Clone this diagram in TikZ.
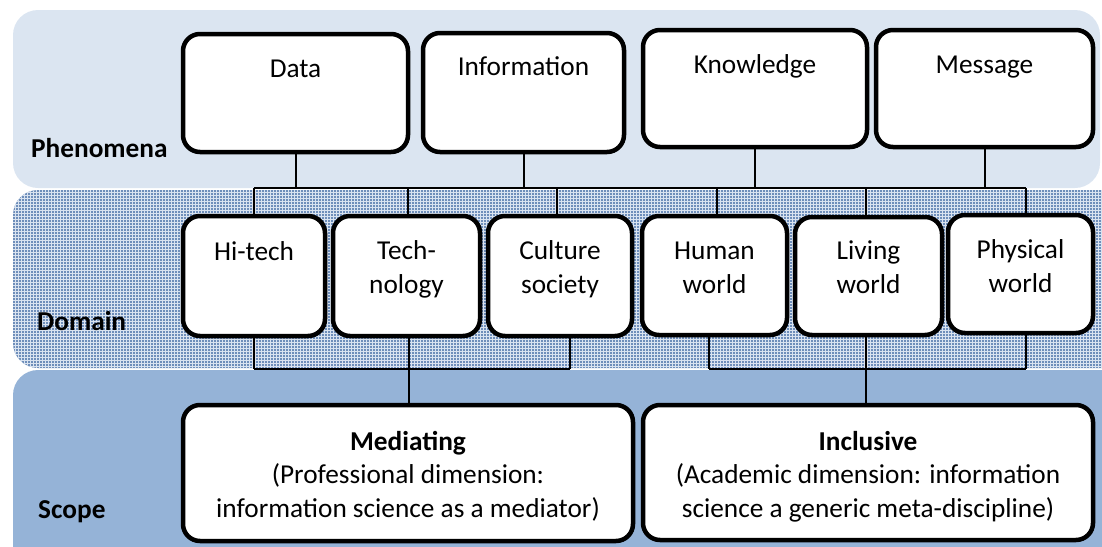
\documentclass[tikz,border=0pt]{standalone}
\usepackage{fontspec}
\setmainfont{Carlito}
\usetikzlibrary{patterns}
\definecolor{phenfill}{HTML}{DBE5F1}
\definecolor{scopefill}{HTML}{95B3D7}
\definecolor{domfill}{HTML}{6E8EBA}
\definecolor{domgrid}{HTML}{D9E3F0}
\begin{document}
\begin{tikzpicture}[x=1pt,y=-1pt,
  band/.style={rounded corners=25pt},
  bx/.style={draw=black, line width=4.5pt, fill=white, rounded corners=17pt, inner sep=0pt},
  conn/.style={draw=black, line width=2pt},
  txt/.style={font=\fontsize{27.3}{33.5}\selectfont, align=center, inner sep=0pt, anchor=base},
  lbl/.style={font=\fontsize{27.3}{33.5}\selectfont\bfseries, inner sep=0pt, anchor=base west}]
\useasboundingbox (0,0) rectangle (1102,546);
\clip (0,0) rectangle (1102,546);
% bands
\fill[phenfill, band] (13,10) rectangle (1100,188);
\path[band, preaction={fill=domfill}, pattern=grid, pattern color=domgrid] (13,190) rectangle (1130,368);
\fill[scopefill, band] (13,370) rectangle (1130,580);
% band labels
\node[lbl] (lphen) at (31,157) {Phenomena};
\node[lbl] (ldom) at (37,330) {Domain};
\node[lbl] (lscope) at (38,518) {Scope};
% phenomena boxes
\node[bx, minimum width=225pt, minimum height=118pt] (data) at (295.5,93) {};
\node[bx, minimum width=201pt, minimum height=119pt] (info) at (523.5,92.5) {};
\node[bx, minimum width=224pt, minimum height=117pt] (know) at (755,88.5) {};
\node[bx, minimum width=217pt, minimum height=117pt] (msg) at (984.5,88.5) {};
\node[txt] (datat) at (295.5,77) {Data};
\node[txt] (infot) at (523.5,75) {Information};
\node[txt] (knowt) at (755,73) {Knowledge};
\node[txt] (msgt) at (984.5,73) {Message};
% domain boxes
\node[bx, minimum width=142pt, minimum height=120pt] (hitech) at (254,276) {};
\node[bx, minimum width=147pt, minimum height=120pt] (tech) at (406.5,276) {};
\node[bx, minimum width=144pt, minimum height=120pt] (cult) at (560,276) {};
\node[bx, minimum width=145pt, minimum height=119pt] (human) at (714.5,275.5) {};
\node[bx, minimum width=147pt, minimum height=118pt] (living) at (868.5,276) {};
\node[bx, minimum width=145pt, minimum height=118pt] (phys) at (1020.5,274) {};
\node[txt] (hitecht) at (254,260) {Hi-tech};
\node[txt] (techt) at (406.5,293) {Tech-\\nology};
\node[txt] (cultt) at (560,293) {Culture\\society};
\node[txt] (humant) at (714.5,293) {Human\\world};
\node[txt] (livingt) at (868.5,293) {Living\\world};
\node[txt] (physt) at (1020.5,292) {Physical\\world};
% scope boxes
\node[bx, minimum width=450pt, minimum height=136pt] (med) at (408,473) {};
\node[bx, minimum width=450pt, minimum height=135pt] (incl) at (868,472.5) {};
\node[txt] (medt) at (408,517) {\textbf{Mediating}\\(Professional dimension:\\information science as a mediator)};
\node[txt] (inclt) at (868,517) {\textbf{Inclusive}\\(Academic dimension: information\\science a generic meta-discipline)};
% top connectors
\coordinate (tbusL) at (254,188);
\coordinate (tbusR) at (1026,188);
\draw[conn] (tbusL) -- (tbusR);
\draw[conn] (data.south) -- (data.south |- tbusL);
\draw[conn] (info.south) -- (info.south |- tbusL);
\draw[conn] (know.south) -- (know.south |- tbusL);
\draw[conn] (msg.south) -- (msg.south |- tbusL);
\draw[conn] (hitech.north) -- (hitech.north |- tbusL);
\draw[conn] ([xshift=1.5pt]tech.north) -- ([xshift=1.5pt]tech.north |- tbusL);
\draw[conn] ([xshift=-3pt]cult.north) -- ([xshift=-3pt]cult.north |- tbusL);
\draw[conn] ([xshift=2.5pt]human.north) -- ([xshift=2.5pt]human.north |- tbusL);
\draw[conn] ([xshift=-2.5pt]living.north) -- ([xshift=-2.5pt]living.north |- tbusL);
\draw[conn] ([xshift=5.5pt]phys.north) -- ([xshift=5.5pt]phys.north |- tbusR);
% bottom connectors
\coordinate (bbusL) at (254,369);
\coordinate (bbusLr) at (570,369);
\coordinate (bbusR) at (709,369);
\coordinate (bbusRr) at (1026,369);
\draw[conn] (bbusL) -- (bbusLr);
\draw[conn] (bbusR) -- (bbusRr);
\draw[conn] (hitech.south) -- (hitech.south |- bbusL);
\draw[conn] ([xshift=2.5pt]tech.south) -- ([xshift=2.5pt]tech.south |- bbusL);
\draw[conn] ([xshift=10pt]cult.south) -- ([xshift=10pt]cult.south |- bbusL);
\draw[conn] ([xshift=-5.5pt]human.south) -- ([xshift=-5.5pt]human.south |- bbusR);
\draw[conn] ([xshift=-2.5pt]living.south) -- ([xshift=-2.5pt]living.south |- bbusR);
\draw[conn] ([xshift=5.5pt]phys.south) -- ([xshift=5.5pt]phys.south |- bbusR);
\draw[conn] ([xshift=1pt]med.north) -- ([xshift=1pt]med.north |- bbusL);
\draw[conn] ([xshift=-2pt]incl.north) -- ([xshift=-2pt]incl.north |- bbusR);
\end{tikzpicture}
\end{document}
